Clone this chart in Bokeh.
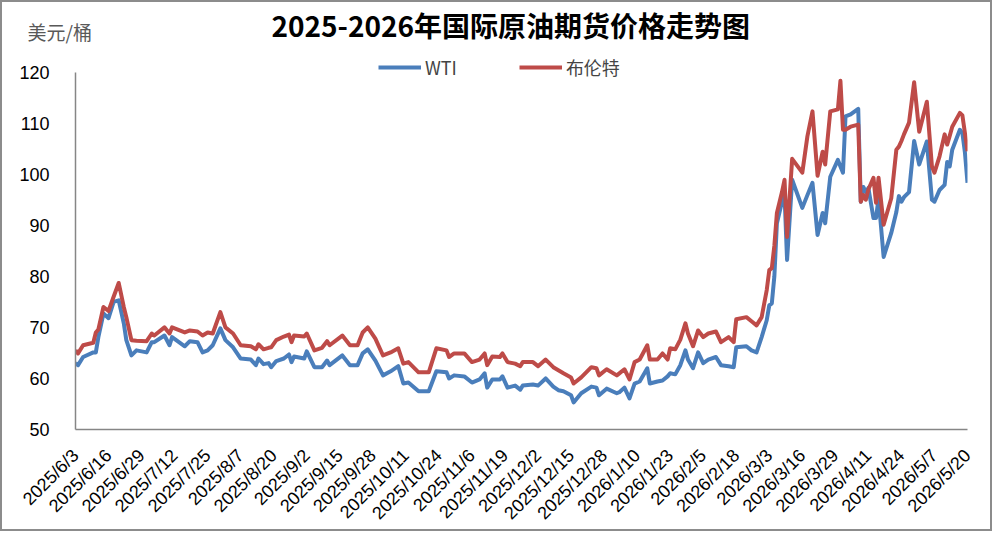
from math import pi
import pandas as pd
from bokeh.plotting import figure
from bokeh.models import Range1d, FixedTicker, DatetimeTickFormatter, Legend, Title
from bokeh.embed import file_html
from bokeh.resources import INLINE

# trading dates
dates = [
    "2025-06-03", "2025-06-04", "2025-06-06", "2025-06-10", "2025-06-11", "2025-06-12",
    "2025-06-14", "2025-06-16", "2025-06-18", "2025-06-20", "2025-06-22", "2025-06-23",
    "2025-06-25", "2025-06-27", "2025-07-01", "2025-07-03", "2025-07-04", "2025-07-08",
    "2025-07-10", "2025-07-11", "2025-07-16", "2025-07-18", "2025-07-21", "2025-07-23",
    "2025-07-25", "2025-07-27", "2025-07-30", "2025-08-01", "2025-08-04", "2025-08-07",
    "2025-08-11", "2025-08-13", "2025-08-14", "2025-08-16", "2025-08-18", "2025-08-19",
    "2025-08-21", "2025-08-24", "2025-08-26", "2025-08-27", "2025-08-28", "2025-09-01",
    "2025-09-02", "2025-09-05", "2025-09-08", "2025-09-10", "2025-09-11", "2025-09-16",
    "2025-09-19", "2025-09-22", "2025-09-24", "2025-09-26", "2025-09-29", "2025-10-02",
    "2025-10-05", "2025-10-08", "2025-10-10", "2025-10-12", "2025-10-16", "2025-10-20",
    "2025-10-23", "2025-10-27", "2025-10-28", "2025-10-30", "2025-11-03", "2025-11-06",
    "2025-11-09", "2025-11-11", "2025-11-12", "2025-11-14", "2025-11-17", "2025-11-18",
    "2025-11-20", "2025-11-23", "2025-11-25", "2025-11-26", "2025-11-30", "2025-12-02",
    "2025-12-05", "2025-12-08", "2025-12-10", "2025-12-12", "2025-12-15", "2025-12-16",
    "2025-12-19", "2025-12-23", "2025-12-25", "2025-12-26", "2025-12-29", "2026-01-02",
    "2026-01-03", "2026-01-05", "2026-01-07", "2026-01-09", "2026-01-11", "2026-01-14",
    "2026-01-15", "2026-01-18", "2026-01-20", "2026-01-22", "2026-01-23", "2026-01-25",
    "2026-01-27", "2026-01-29", "2026-01-30", "2026-02-01", "2026-02-03", "2026-02-05",
    "2026-02-07", "2026-02-10", "2026-02-12", "2026-02-15", "2026-02-17", "2026-02-18",
    "2026-02-22", "2026-02-24", "2026-02-26", "2026-02-28", "2026-03-02", "2026-03-03",
    "2026-03-04", "2026-03-05", "2026-03-06", "2026-03-08", "2026-03-09", "2026-03-10",
    "2026-03-12", "2026-03-16", "2026-03-18", "2026-03-20", "2026-03-22", "2026-03-24",
    "2026-03-25", "2026-03-27", "2026-03-30", "2026-03-31", "2026-04-01", "2026-04-02",
    "2026-04-04", "2026-04-07", "2026-04-08", "2026-04-09", "2026-04-10", "2026-04-11",
    "2026-04-13", "2026-04-14", "2026-04-15", "2026-04-17", "2026-04-20", "2026-04-22",
    "2026-04-23", "2026-04-24", "2026-04-25", "2026-04-27", "2026-04-29", "2026-05-01",
    "2026-05-04", "2026-05-06", "2026-05-07", "2026-05-09", "2026-05-11", "2026-05-12",
    "2026-05-13", "2026-05-14", "2026-05-17", "2026-05-18", "2026-05-19", "2026-05-20",
]

wti = [
    63.0, 62.6, 64.2, 65.1, 65.1, 68.1,
    72.7, 71.8, 75.0, 75.3, 70.8, 67.5,
    64.5, 65.5, 65.1, 67.1, 67.1, 68.4,
    66.5, 68.1, 66.3, 67.3, 67.1, 65.1,
    65.5, 66.5, 69.8, 67.5, 66.1, 63.9,
    63.7, 62.6, 63.9, 62.8, 63.0, 62.2,
    63.4, 63.9, 64.7, 63.2, 64.3, 63.9,
    65.3, 62.2, 62.2, 63.5, 62.6, 64.5,
    62.6, 62.6, 64.9, 65.7, 63.5, 60.6,
    61.4, 62.4, 59.0, 59.2, 57.5, 57.5,
    61.4, 61.2, 60.0, 60.6, 60.4, 59.2,
    59.8, 61.0, 58.2, 59.8, 59.8, 60.4,
    58.2, 58.6, 57.8, 58.6, 58.8, 58.6,
    60.0, 58.4, 57.7, 57.5, 56.7, 55.3,
    57.1, 58.4, 58.2, 56.7, 58.0, 57.1,
    57.3, 58.2, 56.1, 59.0, 59.4, 62.0,
    59.0, 59.4, 59.6, 60.4, 61.0, 60.8,
    62.6, 65.5, 63.7, 62.0, 65.1, 63.0,
    63.7, 64.2, 62.6, 62.4, 62.2, 66.1,
    66.3, 65.5, 65.1, 68.1, 71.4, 74.3,
    74.7, 80.0, 90.4, 94.6, 96.0, 83.2,
    98.9, 93.4, 95.9, 98.3, 88.1, 92.4,
    90.4, 99.5, 102.8, 101.5, 100.3, 111.3,
    111.7, 112.8, 94.6, 97.5, 96.5, 97.3,
    91.4, 91.4, 95.3, 83.8, 88.5, 92.6,
    95.7, 94.6, 95.5, 96.5, 106.5, 101.9,
    106.4, 95.0, 94.6, 96.9, 97.9, 102.4,
    101.5, 104.8, 108.7, 108.0, 104.2, 98.3,
]

brent = [
    65.5, 64.9, 66.5, 67.0, 69.0, 69.6,
    74.0, 73.2, 76.0, 78.7, 74.0, 72.0,
    67.5, 67.4, 67.3, 68.8, 68.4, 70.0,
    68.8, 70.0, 69.0, 69.4, 69.2, 68.4,
    69.0, 68.8, 73.0, 70.0, 68.8, 66.5,
    66.3, 65.7, 66.7, 65.7, 66.0, 66.1,
    67.5, 68.2, 68.6, 67.1, 68.4, 68.2,
    68.8, 65.5, 66.0, 67.3, 66.5, 68.4,
    66.5, 66.5, 69.0, 70.0, 67.8, 64.5,
    65.1, 65.9, 62.9, 63.2, 61.2, 61.2,
    65.9, 65.5, 64.2, 64.9, 64.9, 63.2,
    63.7, 64.9, 62.6, 64.3, 64.2, 64.9,
    63.2, 62.9, 62.4, 63.2, 63.2, 62.4,
    63.7, 62.2, 61.6, 61.0, 60.2, 59.0,
    60.2, 62.2, 62.0, 60.6, 61.8, 60.6,
    61.0, 61.8, 59.8, 63.2, 63.7, 66.5,
    63.7, 63.7, 64.9, 63.7, 65.9, 65.7,
    67.6, 70.8, 68.8, 66.3, 69.4, 68.1,
    68.8, 69.2, 67.1, 68.1, 67.1, 71.6,
    72.0, 71.2, 70.4, 72.0, 77.3, 81.2,
    81.6, 86.0, 92.4, 96.5, 98.9, 87.7,
    103.0, 100.3, 107.4, 112.3, 99.7, 104.4,
    101.9, 112.3, 112.7, 118.3, 108.7, 108.7,
    109.3, 109.7, 94.6, 95.9, 95.0, 97.0,
    99.3, 94.4, 99.3, 90.1, 95.3, 104.8,
    105.4, 106.5, 107.8, 110.1, 118.0, 108.3,
    114.2, 101.5, 100.3, 103.5, 107.8, 105.8,
    107.5, 109.3, 112.0, 111.5, 108.0, 104.5,
]

tick_dates = [
    "2025-06-03", "2025-06-16", "2025-06-29", "2025-07-12", "2025-07-25", "2025-08-07",
    "2025-08-20", "2025-09-02", "2025-09-15", "2025-09-28", "2025-10-11", "2025-10-24",
    "2025-11-06", "2025-11-19", "2025-12-02", "2025-12-15", "2025-12-28", "2026-01-10",
    "2026-01-23", "2026-02-05", "2026-02-18", "2026-03-03", "2026-03-16", "2026-03-29",
    "2026-04-11", "2026-04-24", "2026-05-07", "2026-05-20",
]
y_ticks = [50, 60, 70, 80, 90, 100, 110, 120]

x = pd.to_datetime(dates)
ticks_ms = [int(v) for v in pd.to_datetime(tick_dates).asi8 // 10**6]

# frame reaches a little above 120 so the legend sits inside it; the axis line stops at 120
p = figure(width=992, height=531, x_axis_type="datetime",
           x_range=Range1d(ticks_ms[0], ticks_ms[-1]), y_range=Range1d(50, 125.2),
           output_backend="svg", toolbar_location=None,
           min_border_left=73, min_border_right=27, min_border_top=0, min_border_bottom=104)
p.styles = {"border": "2px solid #8c8c8c"}
p.outline_line_color = None
p.xgrid.grid_line_color = None
p.ygrid.grid_line_color = None

l1 = p.line(x, wti, line_color="#4a7ebb", line_width=4, line_join="round")
l2 = p.line(x, brent, line_color="#be4b48", line_width=4, line_join="round")

for ax in (p.xaxis[0], p.yaxis[0]):
    ax.axis_line_color = "#868686"
    ax.axis_line_width = 1.5
    ax.major_tick_line_color = None
    ax.minor_tick_line_color = None
    ax.major_label_text_color = "black"
    ax.major_label_text_font = "Liberation Sans"

p.xaxis.ticker = FixedTicker(ticks=ticks_ms)
p.xaxis.formatter = DatetimeTickFormatter(days="%Y/%-m/%-d", months="%Y/%-m/%-d")
p.xaxis.major_label_orientation = pi / 4
p.xaxis.major_label_text_font_size = "18px"
p.xaxis.major_label_standoff = 17

p.yaxis.ticker = FixedTicker(ticks=y_ticks)
p.yaxis.bounds = (50, 120)
p.yaxis.major_label_text_font_size = "18px"
p.yaxis.major_label_standoff = 20

legend = Legend(items=[("WTI", [l1]), ("布伦特", [l2])], orientation="horizontal",
                location=(303, 349), padding=0, margin=0, spacing=62,
                glyph_width=43, glyph_height=20, label_height=20, label_standoff=4,
                label_text_font="Noto Sans CJK SC", label_text_font_size="18px",
                background_fill_alpha=0, border_line_color=None)
p.add_layout(legend)

# the two header texts share a band; the inner one is top-aligned with a negative standoff
unit = Title(text="美元/桶", align="left", offset=-48, standoff=-55.6, vertical_align="top",
             text_font="Noto Sans CJK SC", text_font_size="19px",
             text_font_style="normal", text_color="#595959")
p.add_layout(unit, "above")
main = Title(text="2025-2026年国际原油期货价格走势图", align="left", offset=196,
             standoff=1.4, text_font="Noto Sans CJK SC", text_font_size="28px",
             text_font_style="bold", text_color="black")
p.add_layout(main, "above")

open("out.html", "w").write(file_html(p, INLINE))
